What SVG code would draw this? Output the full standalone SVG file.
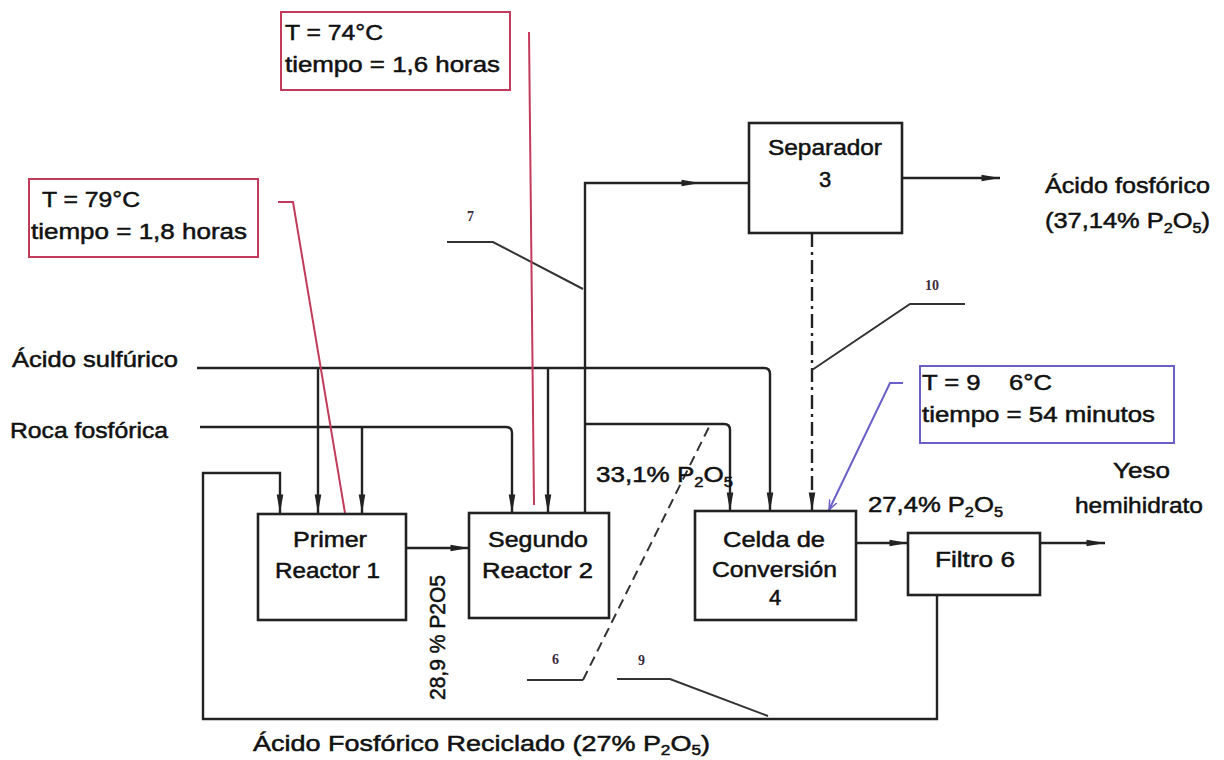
<svg xmlns="http://www.w3.org/2000/svg" width="1224" height="760" viewBox="0 0 1224 760">
<style>
.bg{fill:#fff}
.box{fill:#fff;stroke:#222;stroke-width:2.6}
.ln{fill:none;stroke:#222;stroke-width:2.4}
.thin{fill:none;stroke:#333;stroke-width:2}
.red{fill:none;stroke:#c23b5c;stroke-width:2}
.pur{fill:none;stroke:#6a5fc8;stroke-width:2}
.t{font-family:"Liberation Sans",Arial,sans-serif;font-size:22px;fill:#111;stroke:#111;stroke-width:0.5}
.n{font-family:"Liberation Serif","Times New Roman",serif;font-size:14px;font-weight:bold;fill:#3a2a3a}
.sub{font-size:14px}
</style>
<defs>
<marker id="arr" viewBox="0 0 14 10" refX="14" refY="5" markerWidth="8" markerHeight="5.5" orient="auto" markerUnits="strokeWidth">
<path d="M0,2.5 L14,5 L0,7.5 z" fill="#222"/>
</marker>
<marker id="parr" viewBox="0 0 10 10" refX="10" refY="5" markerWidth="5" markerHeight="5" orient="auto" markerUnits="strokeWidth">
<path d="M0,1 L10,5 L0,9" fill="none" stroke="#6a5fc8" stroke-width="1.5"/>
</marker>
</defs>
<rect class="bg" x="0" y="0" width="1224" height="760"/>

<g id="connectors">
<path class="ln" d="M197,368 H764 Q770,368 770,374 V511" marker-end="url(#arr)"/>
<path class="ln" d="M318,368 V513" marker-end="url(#arr)"/>
<path class="ln" d="M548,368 V513" marker-end="url(#arr)"/>
<path class="ln" d="M200,427 H506 Q512,427 512,433 V513" stroke="#333" marker-end="url(#arr)"/>
<path class="ln" d="M362,427 V513" marker-end="url(#arr)"/>
<path class="ln" d="M937,595 V719 H203 V473 H280 V513" marker-end="url(#arr)"/>
<path class="ln" d="M406,548 H469" marker-end="url(#arr)"/>
<path class="ln" d="M585,513 V183 H700" marker-end="url(#arr)"/>
<path class="ln" d="M700,183 H749"/>
<path class="ln" d="M585,424 H724 Q730,424 730,430 V511" marker-end="url(#arr)"/>
<path class="ln" d="M902,178 H1000" marker-end="url(#arr)"/>
<path class="ln" d="M812,233 V511" stroke-dasharray="14 5 3 5" marker-end="url(#arr)"/>
<path class="ln" d="M856,543 H908" marker-end="url(#arr)"/>
<path class="ln" d="M1040,543 H1105" marker-end="url(#arr)"/>
<path class="thin" d="M447,242 H493 L583,289"/>
<path class="thin" d="M965,304 H910 L812,370" stroke-width="2.4"/>
<path class="thin" d="M527,680 H583"/>
<path class="thin" d="M583,680 L710,425" stroke-dasharray="10 6"/>
<path class="thin" d="M617,679 H670 L768,716"/>
<path class="red" d="M278,202 H293 L345,513"/>
<path class="red" d="M529,32 L534,505"/>
<path class="pur" d="M903,383 H890 L829,510" marker-end="url(#parr)"/>
</g>

<g id="note-r1">
<rect class="red" x="29" y="179" width="229" height="78"/>
<text class="t" x="42" y="207" textLength="98" lengthAdjust="spacingAndGlyphs">T = 79°C</text>
<text class="t" x="31" y="239" textLength="216" lengthAdjust="spacingAndGlyphs">tiempo = 1,8 horas</text>
</g>
<g id="note-r2">
<rect class="red" x="281" y="12" width="229" height="78"/>
<text class="t" x="285" y="40" textLength="98" lengthAdjust="spacingAndGlyphs">T = 74°C</text>
<text class="t" x="285" y="72" textLength="215" lengthAdjust="spacingAndGlyphs">tiempo = 1,6 horas</text>
</g>
<g id="note-c4">
<rect class="pur" x="920" y="366" width="254" height="77"/>
<text class="t" x="922" y="390" xml:space="preserve" textLength="130" lengthAdjust="spacingAndGlyphs">T = 9    6°C</text>
<text class="t" x="922" y="422" textLength="233" lengthAdjust="spacingAndGlyphs">tiempo = 54 minutos</text>
</g>

<g id="reactor1">
<rect class="box" x="258" y="514" width="148" height="106"/>
<text class="t" x="293" y="547" textLength="74" lengthAdjust="spacingAndGlyphs">Primer</text>
<text class="t" x="275" y="578" textLength="105" lengthAdjust="spacingAndGlyphs">Reactor 1</text>
</g>
<g id="reactor2">
<rect class="box" x="469" y="513" width="140" height="105"/>
<text class="t" x="488" y="547" textLength="100" lengthAdjust="spacingAndGlyphs">Segundo</text>
<text class="t" x="482" y="578" textLength="111" lengthAdjust="spacingAndGlyphs">Reactor 2</text>
</g>
<g id="separador3">
<rect class="box" x="749" y="123" width="153" height="110"/>
<text class="t" x="768" y="155" textLength="114" lengthAdjust="spacingAndGlyphs">Separador</text>
<text class="t" x="825" y="187" text-anchor="middle">3</text>
</g>
<g id="celda4">
<rect class="box" x="695" y="511" width="161" height="109"/>
<text class="t" x="723" y="547" textLength="102" lengthAdjust="spacingAndGlyphs">Celda de</text>
<text class="t" x="712" y="577" textLength="125" lengthAdjust="spacingAndGlyphs">Conversión</text>
<text class="t" x="775" y="605" text-anchor="middle">4</text>
</g>
<g id="filtro6">
<rect class="box" x="908" y="533" width="132" height="62"/>
<text class="t" x="935" y="567" textLength="80" lengthAdjust="spacingAndGlyphs">Filtro 6</text>
</g>

<g id="labels">
<text class="t" x="12" y="367" textLength="166" lengthAdjust="spacingAndGlyphs">Ácido sulfúrico</text>
<text class="t" x="10" y="438" textLength="158" lengthAdjust="spacingAndGlyphs">Roca fosfórica</text>
<text class="t" x="1045" y="193" textLength="165" lengthAdjust="spacingAndGlyphs">Ácido fosfórico</text>
<text class="t" x="1045" y="228" textLength="165" lengthAdjust="spacingAndGlyphs">(37,14% P<tspan class="sub" dy="5">2</tspan><tspan dy="-5">O</tspan><tspan class="sub" dy="5">5</tspan><tspan dy="-5">)</tspan></text>
<text class="t" x="1113" y="478" textLength="57" lengthAdjust="spacingAndGlyphs">Yeso</text>
<text class="t" x="1075" y="513" textLength="128" lengthAdjust="spacingAndGlyphs">hemihidrato</text>
<text class="t" x="868" y="512" textLength="135" lengthAdjust="spacingAndGlyphs">27,4% P<tspan class="sub" dy="5">2</tspan><tspan dy="-5">O</tspan><tspan class="sub" dy="5">5</tspan></text>
<text class="t" x="596" y="482" textLength="137" lengthAdjust="spacingAndGlyphs">33,1% P<tspan class="sub" dy="5">2</tspan><tspan dy="-5">O</tspan><tspan class="sub" dy="5">5</tspan></text>
<text class="t" transform="translate(445,700) rotate(-90)" x="0" y="0" textLength="125" lengthAdjust="spacingAndGlyphs">28,9 % P2O5</text>
<text class="t" x="253" y="751" textLength="457" lengthAdjust="spacingAndGlyphs">Ácido Fosfórico Reciclado (27% P<tspan class="sub" dy="4">2</tspan><tspan dy="-4">O</tspan><tspan class="sub" dy="4">5</tspan><tspan dy="-4">)</tspan></text>
<text class="n" x="467" y="221">7</text>
<text class="n" x="925" y="290">10</text>
<text class="n" x="552" y="664">6</text>
<text class="n" x="638" y="665">9</text>
</g>
</svg>
